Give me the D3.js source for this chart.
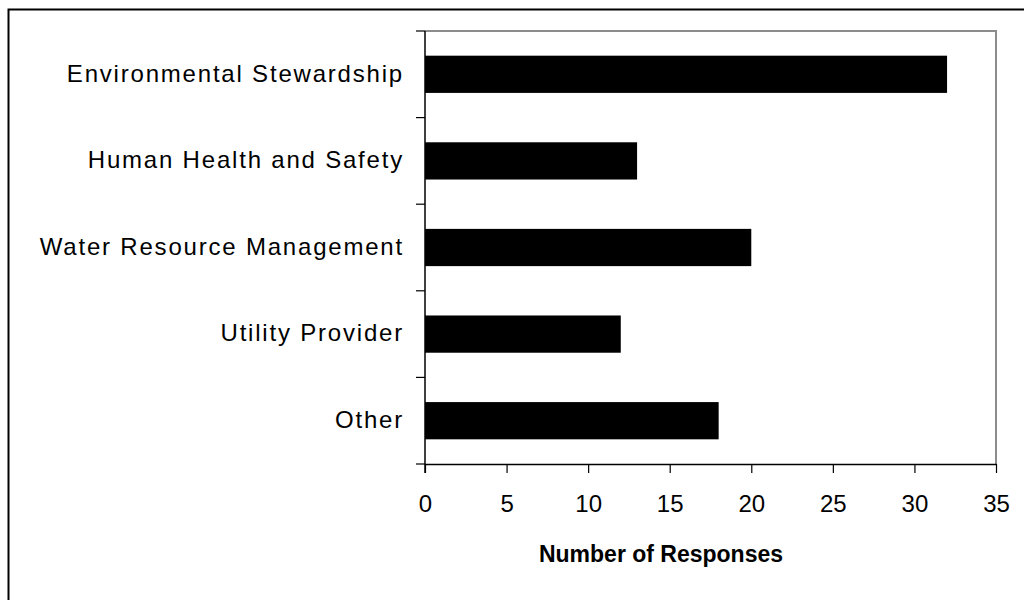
<!DOCTYPE html>
<meta charset="utf-8">
<head>
    <title>Number of Responses</title>
    <script src="https://d3js.org/d3.v7.min.js"></script>
</head>

<style>
body { margin: 0; background: #fff; }
svg text { font-family: "Liberation Sans", Arial, sans-serif; fill: #000; }
</style>

<body>
<svg></svg>
<script>

// chart data
let categories = ["Environmental Stewardship", "Human Health and Safety", "Water Resource Management", "Utility Provider", "Other"];
let responses = [32, 13, 20, 12, 18];
let xTicks = [0, 5, 10, 15, 20, 25, 30, 35];

let width = 1024, height = 600;
let plot = {left: 425, right: 996, top: 31, bottom: 464};

let svg = d3.select("svg")
    .attr("width", width)
    .attr("height", height);

// outer frame (runs off the page right and bottom)
svg.append("rect")
    .attr("x", 8.5).attr("y", 9.5)
    .attr("width", 1100).attr("height", 700)
    .attr("fill", "none")
    .attr("stroke", "#000")
    .attr("stroke-width", 2);

let x = d3.scaleLinear()
    .domain([0, 35])
    .range([plot.left, plot.right]);

let y = d3.scaleBand()
    .domain(categories)
    .range([plot.top, plot.bottom])
    .paddingInner(0.57)
    .paddingOuter(0.285);

let yb = d3.scaleBand()
    .domain(categories)
    .range([plot.top, plot.bottom]);

// gray top/right border of the plot area
svg.append("path")
    .attr("d", `M${plot.left},${plot.top}H${plot.right}V${plot.bottom}`)
    .attr("fill", "none")
    .attr("stroke", "#8c8c8c")
    .attr("stroke-width", 2);

// bars
svg.selectAll(".bar")
    .data(categories)
    .enter()
    .append("rect")
    .attr("class", "bar")
    .attr("x", x(0))
    .attr("y", d => y(d))
    .attr("width", (d, i) => x(responses[i]) - x(0))
    .attr("height", y.bandwidth())
    .attr("fill", "#000");

// x axis
let xAxis = svg.append("g")
    .attr("transform", `translate(0,${plot.bottom})`)
    .call(d3.axisBottom(x).tickValues(xTicks).tickSize(9).tickPadding(22).tickSizeOuter(0));
xAxis.select(".domain").attr("stroke", "#000").attr("stroke-width", 1.5);
xAxis.selectAll(".tick line").attr("stroke", "#000").attr("stroke-width", 1.2);
xAxis.selectAll(".tick text")
    .attr("font-size", 24)
    .attr("font-family", "Liberation Sans, Arial, sans-serif");

// y axis: ticks at category boundaries
let yAxis = svg.append("g")
    .attr("transform", `translate(${plot.left},0)`);
yAxis.append("line")
    .attr("x1", 0).attr("x2", 0)
    .attr("y1", plot.top).attr("y2", plot.bottom + 9)
    .attr("stroke", "#000").attr("stroke-width", 1.5);
let bounds = categories.map(c => yb(c) + yb.bandwidth());
yAxis.selectAll(".ytick")
    .data([plot.top].concat(bounds))
    .enter()
    .append("line")
    .attr("x1", -9).attr("x2", 0)
    .attr("y1", d => d).attr("y2", d => d)
    .attr("stroke", "#000").attr("stroke-width", 1.2);
yAxis.selectAll(".ylabel")
    .data(categories)
    .enter()
    .append("text")
    .attr("x", -21)
    .attr("y", d => yb(d) + yb.bandwidth() / 2)
    .attr("dy", "0.3em")
    .attr("text-anchor", "end")
    .attr("font-size", 24)
    .attr("letter-spacing", 1.8)
    .text(d => d);

// axis title
svg.append("text")
    .attr("x", 661)
    .attr("y", 562)
    .attr("text-anchor", "middle")
    .attr("font-size", 23)
    .attr("font-weight", "bold")
    .text("Number of Responses");

</script>
</body>
